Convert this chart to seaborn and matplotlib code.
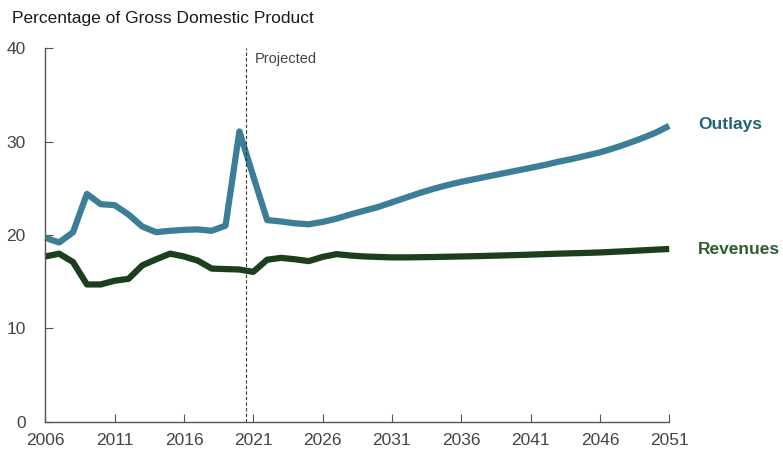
import matplotlib
matplotlib.use("Agg")
import matplotlib.pyplot as plt
import seaborn as sns
import pandas as pd
import numpy as np

years = list(range(2006, 2052))
outlays = [19.7, 19.2, 20.3, 24.4, 23.3, 23.2, 22.2, 20.9, 20.3, 20.45, 20.55, 20.6, 20.45, 21.0,
           31.1, 26.3, 21.6, 21.45, 21.25, 21.15, 21.4, 21.75, 22.2, 22.6, 23.0, 23.5, 24.0, 24.5,
           24.95, 25.35, 25.7, 26.0, 26.3, 26.6, 26.9, 27.2, 27.5, 27.85, 28.15, 28.5, 28.85,
           29.3, 29.8, 30.35, 30.95, 31.7]
revenues = [17.7, 18.0, 17.1, 14.7, 14.7, 15.1, 15.3, 16.75, 17.4, 18.0, 17.7, 17.25, 16.4, 16.35,
            16.3, 16.05, 17.35, 17.55, 17.4, 17.2, 17.65, 17.95, 17.8, 17.7, 17.65, 17.6, 17.6, 17.62,
            17.64, 17.67, 17.7, 17.73, 17.77, 17.81, 17.85, 17.9, 17.95, 18.0, 18.04, 18.08, 18.13,
            18.2, 18.27, 18.35, 18.43, 18.5]
x_ticks = list(range(2006, 2052, 5))
y_ticks = [0, 10, 20, 30, 40]
projection_start = 2020.5

df = pd.DataFrame({"year": years * 2,
                   "value": outlays + revenues,
                   "series": ["Outlays"] * len(years) + ["Revenues"] * len(years)})

sns.set_style("white")
plt.rcParams['font.family'] = ['Liberation Sans Narrow', 'Liberation Sans', 'DejaVu Sans']

fig = plt.figure(figsize=(7.83, 4.65), dpi=100)
ax = fig.add_axes([45.3 / 783, 43.4 / 465, (669.2 - 45.3) / 783, (421.6 - 48.4) / 465])

palette = {"Outlays": "#3a7f97", "Revenues": "#1b3f1d"}
sns.lineplot(data=df, x="year", y="value", hue="series", palette=palette, linewidth=4.5,
             legend=False, ax=ax, solid_capstyle="butt")

ax.set_xlim(2006, 2051)
ax.set_ylim(0, 40)
ax.set_xticks(x_ticks)
ax.set_yticks(y_ticks)
ax.set_xlabel("")
ax.set_ylabel("")
for s in ["top", "right"]:
    ax.spines[s].set_visible(False)
for s in ["left", "bottom"]:
    ax.spines[s].set_color("#555555")
    ax.spines[s].set_linewidth(1.0)
ax.tick_params(axis="both", direction="in", length=6, width=0.8, color="#555555",
               labelsize=12.5, labelcolor="#444444", bottom=True, left=True)
ax.tick_params(axis="y", pad=14)
ax.tick_params(axis="x", pad=8)
for ln in ax.lines:
    ln.set_clip_on(False)

ax.axvline(projection_start, color="#333333", linestyle=(0, (3, 2)), linewidth=0.8)
ax.text(projection_start + 0.6, 39.6, "Projected", fontsize=10.5, color="#444444",
        va="top", ha="left")

ax.text(2053.1, outlays[-1] + 0.1, "Outlays", fontsize=12.5, fontweight="bold",
        color="#21637a", va="center", ha="left", family=['Liberation Sans', 'DejaVu Sans'])
ax.text(2053.1, revenues[-1] - 0.1, "Revenues", fontsize=12.5, fontweight="bold",
        color="#2e5e30", va="center", ha="left", family=['Liberation Sans', 'DejaVu Sans'])

fig.text(12 / 783, 1 - 18 / 465, "Percentage of Gross Domestic Product", fontsize=12.5,
         color="#1a1a1a", va="center", ha="left")

fig.savefig("out.png", dpi=100)
